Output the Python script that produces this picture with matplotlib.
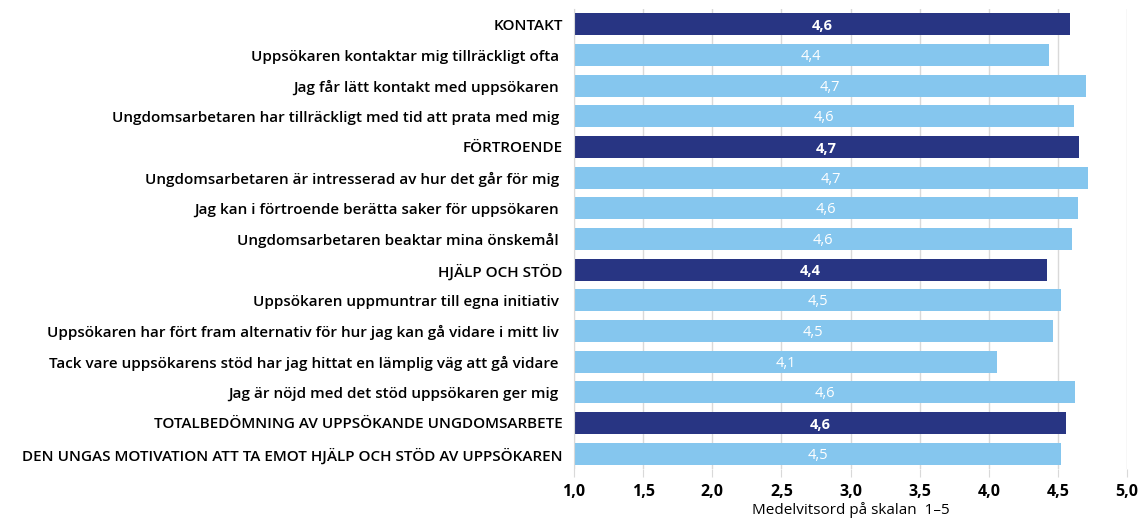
import matplotlib.pyplot as plt
import numpy as np

labels = [
    "KONTAKT",
    "Uppsökaren kontaktar mig tillräckligt ofta ",
    "Jag får lätt kontakt med uppsökaren ",
    "Ungdomsarbetaren har tillräckligt med tid att prata med mig ",
    "FÖRTROENDE",
    "Ungdomsarbetaren är intresserad av hur det går för mig ",
    "Jag kan i förtroende berätta saker för uppsökaren ",
    "Ungdomsarbetaren beaktar mina önskemål ",
    "HJÄLP OCH STÖD",
    "Uppsökaren uppmuntrar till egna initiativ ",
    "Uppsökaren har fört fram alternativ för hur jag kan gå vidare i mitt liv ",
    "Tack vare uppsökarens stöd har jag hittat en lämplig väg att gå vidare ",
    "Jag är nöjd med det stöd uppsökaren ger mig ",
    "TOTALBEDÖMNING AV UPPSÖKANDE UNGDOMSARBETE",
    "DEN UNGAS MOTIVATION ATT TA EMOT HJÄLP OCH STÖD AV UPPSÖKAREN",
]
values = [4.586, 4.433, 4.707, 4.619, 4.656, 4.718, 4.643, 4.605,
          4.42, 4.525, 4.463, 4.06, 4.627, 4.557, 4.525]
headline = [True, False, False, False, True, False, False, False,
            True, False, False, False, False, True, False]

dark = "#283583"
light = "#85C6EE"
start = 1.0

plt.rcParams["font.family"] = ["Open Sans", "DejaVu Sans"]

fig = plt.figure(figsize=(11.38, 5.22), dpi=100)
ax = fig.add_axes([574 / 1138, 1 - 469 / 522, (1127 - 574) / 1138, 460 / 522])

y = np.arange(len(labels))
colors = [dark if h else light for h in headline]
widths = [v - start for v in values]
ax.barh(y, widths, left=start, height=0.72, color=colors, zorder=2)

for yi, v, h in zip(y, values, headline):
    txt = f"{v:.1f}".replace(".", ",")
    ax.text((start + v) / 2, yi + 0.05, txt, ha="center", va="center",
            color="white", fontsize=10.5, fontweight="bold" if h else "normal",
            zorder=3)

ax.set_ylim(len(labels) - 0.5, -0.5)
ax.set_xlim(1.0, 5.0)
ticks = np.arange(1.0, 5.01, 0.5)
ax.set_xticks(ticks)
ax.set_xticklabels([f"{t:.1f}".replace(".", ",") for t in ticks],
                   fontsize=11.5, fontweight="bold")
ax.set_yticks(y)
ax.set_yticklabels(labels, fontsize=11, fontweight="semibold")
ax.tick_params(axis="y", length=0, pad=8)
ax.tick_params(axis="x", length=6, color="#d9d9d9", pad=5)
ax.grid(axis="x", color="#d9d9d9", linewidth=1, zorder=0)

for s in ["top", "right", "bottom"]:
    ax.spines[s].set_visible(False)
ax.spines["left"].set_color("#d9d9d9")

ax.set_xlabel("Medelvitsord på skalan  1–5", fontsize=11, labelpad=1)

fig.savefig("out.png", dpi=100)
